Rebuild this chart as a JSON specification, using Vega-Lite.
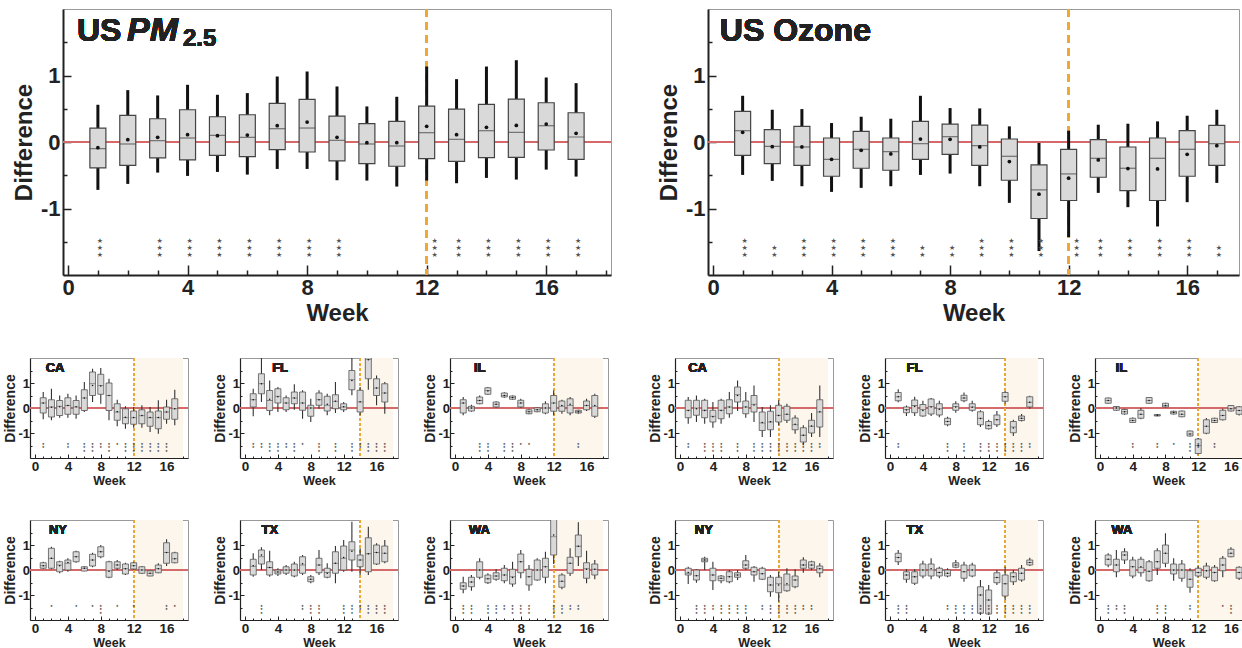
{
"$schema": "https://vega.github.io/schema/vega-lite/v6.json",
"padding": {"left": 3, "top": 6, "right": 0, "bottom": 0},
"background": "white",
"config": {
  "view": {"stroke": "#9a9a9a", "strokeWidth": 1},
  "font": "Liberation Sans",
  "axis": {"grid": false, "labelOverlap": false, "tickCount": 50, "domainColor": "#222", "tickColor": "#222", "labelColor": "#222", "titleColor": "#222", "labelFontWeight": "bold", "titleFontWeight": "bold", "labelFont": "Liberation Sans", "titleFont": "Liberation Sans"}
},
"datasets": {
"us_pm": [
{"w":1,"lo":-0.72,"q1":-0.39,"med":-0.10,"q3":0.21,"hi":0.56,"mean":-0.085,"sig":"★\n★\n★"},
{"w":2,"lo":-0.63,"q1":-0.35,"med":-0.03,"q3":0.40,"hi":0.78,"mean":0.035,"sig":""},
{"w":3,"lo":-0.46,"q1":-0.24,"med":0.02,"q3":0.35,"hi":0.70,"mean":0.07,"sig":"★\n★\n★"},
{"w":4,"lo":-0.51,"q1":-0.27,"med":0.06,"q3":0.485,"hi":0.86,"mean":0.11,"sig":"★\n★\n★"},
{"w":5,"lo":-0.45,"q1":-0.20,"med":0.10,"q3":0.38,"hi":0.71,"mean":0.095,"sig":"★\n★\n★"},
{"w":6,"lo":-0.49,"q1":-0.22,"med":0.07,"q3":0.41,"hi":0.735,"mean":0.105,"sig":"★\n★\n★"},
{"w":7,"lo":-0.405,"q1":-0.115,"med":0.20,"q3":0.58,"hi":0.985,"mean":0.245,"sig":"★\n★\n★"},
{"w":8,"lo":-0.405,"q1":-0.15,"med":0.21,"q3":0.64,"hi":1.06,"mean":0.30,"sig":"★\n★\n★"},
{"w":9,"lo":-0.575,"q1":-0.285,"med":0.025,"q3":0.39,"hi":0.835,"mean":0.07,"sig":"★\n★\n★"},
{"w":10,"lo":-0.58,"q1":-0.325,"med":-0.03,"q3":0.275,"hi":0.535,"mean":-0.01,"sig":""},
{"w":11,"lo":-0.67,"q1":-0.365,"med":-0.06,"q3":0.31,"hi":0.68,"mean":-0.01,"sig":""},
{"w":12,"lo":-0.58,"q1":-0.25,"med":0.14,"q3":0.54,"hi":1.135,"mean":0.235,"sig":"★\n★\n★"},
{"w":13,"lo":-0.62,"q1":-0.29,"med":0.04,"q3":0.495,"hi":0.945,"mean":0.11,"sig":"★\n★\n★"},
{"w":14,"lo":-0.54,"q1":-0.235,"med":0.17,"q3":0.565,"hi":1.135,"mean":0.22,"sig":"★\n★\n★"},
{"w":15,"lo":-0.565,"q1":-0.23,"med":0.145,"q3":0.645,"hi":1.23,"mean":0.25,"sig":"★\n★\n★"},
{"w":16,"lo":-0.415,"q1":-0.12,"med":0.245,"q3":0.59,"hi":0.97,"mean":0.27,"sig":"★\n★\n★"},
{"w":17,"lo":-0.52,"q1":-0.26,"med":0.075,"q3":0.44,"hi":0.885,"mean":0.13,"sig":"★\n★\n★"}
],
"us_oz": [
{"w":1,"lo":-0.495,"q1":-0.20,"med":0.17,"q3":0.46,"hi":0.695,"mean":0.145,"sig":"★\n★\n★"},
{"w":2,"lo":-0.585,"q1":-0.325,"med":-0.065,"q3":0.185,"hi":0.485,"mean":-0.07,"sig":"★\n★"},
{"w":3,"lo":-0.665,"q1":-0.35,"med":-0.075,"q3":0.235,"hi":0.495,"mean":-0.075,"sig":"★\n★\n★"},
{"w":4,"lo":-0.75,"q1":-0.515,"med":-0.26,"q3":0.06,"hi":0.285,"mean":-0.26,"sig":"★\n★\n★"},
{"w":5,"lo":-0.69,"q1":-0.395,"med":-0.11,"q3":0.16,"hi":0.38,"mean":-0.125,"sig":"★\n★\n★"},
{"w":6,"lo":-0.665,"q1":-0.425,"med":-0.145,"q3":0.06,"hi":0.35,"mean":-0.18,"sig":"★\n★\n★"},
{"w":7,"lo":-0.495,"q1":-0.26,"med":-0.025,"q3":0.31,"hi":0.695,"mean":0.045,"sig":"★\n★"},
{"w":8,"lo":-0.475,"q1":-0.185,"med":0.08,"q3":0.27,"hi":0.51,"mean":0.04,"sig":"★\n★"},
{"w":9,"lo":-0.665,"q1":-0.35,"med":-0.055,"q3":0.255,"hi":0.505,"mean":-0.075,"sig":"★\n★\n★"},
{"w":10,"lo":-0.915,"q1":-0.575,"med":-0.215,"q3":0.045,"hi":0.235,"mean":-0.295,"sig":"★\n★\n★"},
{"w":11,"lo":-1.64,"q1":-1.15,"med":-0.72,"q3":-0.345,"hi":-0.015,"mean":-0.785,"sig":"★\n★\n★"},
{"w":12,"lo":-1.43,"q1":-0.88,"med":-0.48,"q3":-0.11,"hi":0.17,"mean":-0.545,"sig":"★\n★\n★"},
{"w":13,"lo":-0.765,"q1":-0.53,"med":-0.245,"q3":0.035,"hi":0.26,"mean":-0.27,"sig":"★\n★\n★"},
{"w":14,"lo":-0.98,"q1":-0.73,"med":-0.395,"q3":-0.075,"hi":0.275,"mean":-0.40,"sig":"★\n★\n★"},
{"w":15,"lo":-1.27,"q1":-0.88,"med":-0.245,"q3":0.06,"hi":0.31,"mean":-0.405,"sig":"★\n★\n★"},
{"w":16,"lo":-0.905,"q1":-0.515,"med":-0.11,"q3":0.17,"hi":0.395,"mean":-0.185,"sig":"★\n★\n★"},
{"w":17,"lo":-0.615,"q1":-0.35,"med":-0.025,"q3":0.25,"hi":0.485,"mean":-0.055,"sig":"★\n★"}
],
"pm_CA": [
{"w":1,"lo":-0.45,"q1":-0.2,"med":0.2,"q3":0.41,"hi":0.64,"mean":0.2,"sig":"★\n★"},
{"w":2,"lo":-0.49,"q1":-0.36,"med":0.04,"q3":0.33,"hi":0.77,"mean":0.03,"sig":""},
{"w":3,"lo":-0.39,"q1":-0.3,"med":0.07,"q3":0.3,"hi":0.5,"mean":0.05,"sig":""},
{"w":4,"lo":-0.39,"q1":-0.25,"med":0.1,"q3":0.41,"hi":0.57,"mean":0.1,"sig":"★\n★"},
{"w":5,"lo":-0.43,"q1":-0.25,"med":0.04,"q3":0.3,"hi":0.5,"mean":0.05,"sig":""},
{"w":6,"lo":-0.16,"q1":-0.1,"med":0.4,"q3":0.73,"hi":1.04,"mean":0.4,"sig":"★\n★\n★"},
{"w":7,"lo":0.24,"q1":0.5,"med":0.97,"q3":1.44,"hi":1.57,"mean":0.9,"sig":"★\n★\n★"},
{"w":8,"lo":0.17,"q1":0.55,"med":0.9,"q3":1.35,"hi":1.6,"mean":0.88,"sig":"★\n★"},
{"w":9,"lo":-0.49,"q1":-0.1,"med":0.5,"q3":1.0,"hi":1.17,"mean":0.5,"sig":"★\n★\n★"},
{"w":10,"lo":-0.73,"q1":-0.49,"med":-0.16,"q3":0.17,"hi":0.33,"mean":-0.15,"sig":"★"},
{"w":11,"lo":-0.83,"q1":-0.63,"med":-0.39,"q3":-0.03,"hi":0.07,"mean":-0.37,"sig":"★\n★\n★"},
{"w":12,"lo":-0.79,"q1":-0.65,"med":-0.39,"q3":-0.12,"hi":0.04,"mean":-0.38,"sig":"★\n★\n★"},
{"w":13,"lo":-0.79,"q1":-0.63,"med":-0.31,"q3":-0.07,"hi":0.11,"mean":-0.3,"sig":"★\n★\n★"},
{"w":14,"lo":-0.96,"q1":-0.73,"med":-0.39,"q3":-0.16,"hi":0.04,"mean":-0.38,"sig":"★\n★\n★"},
{"w":15,"lo":-1.03,"q1":-0.83,"med":-0.39,"q3":-0.12,"hi":0.31,"mean":-0.38,"sig":"★\n★\n★"},
{"w":16,"lo":-0.63,"q1":-0.45,"med":-0.16,"q3":0.04,"hi":0.33,"mean":-0.16,"sig":"★\n★\n★"},
{"w":17,"lo":-0.69,"q1":-0.45,"med":-0.03,"q3":0.37,"hi":0.73,"mean":-0.03,"sig":""}
],
"pm_FL": [
{"w":1,"lo":-0.33,"q1":0.04,"med":0.33,"q3":0.57,"hi":0.77,"mean":0.33,"sig":"★\n★"},
{"w":2,"lo":0.24,"q1":0.57,"med":0.97,"q3":1.37,"hi":2.1,"mean":0.97,"sig":"★\n★"},
{"w":3,"lo":-0.29,"q1":-0.1,"med":0.3,"q3":0.7,"hi":1.1,"mean":0.35,"sig":"★\n★\n★"},
{"w":4,"lo":-0.16,"q1":0.2,"med":0.47,"q3":0.77,"hi":0.84,"mean":0.45,"sig":"★\n★\n★"},
{"w":5,"lo":-0.16,"q1":-0.07,"med":0.2,"q3":0.41,"hi":0.5,"mean":0.2,"sig":"★\n★"},
{"w":6,"lo":-0.07,"q1":0.17,"med":0.4,"q3":0.64,"hi":0.95,"mean":0.4,"sig":"★\n★\n★"},
{"w":7,"lo":-0.43,"q1":-0.09,"med":0.2,"q3":0.64,"hi":0.71,"mean":0.2,"sig":"★"},
{"w":8,"lo":-0.56,"q1":-0.33,"med":0.0,"q3":0.11,"hi":0.37,"mean":0.0,"sig":""},
{"w":9,"lo":-0.03,"q1":0.11,"med":0.33,"q3":0.6,"hi":0.71,"mean":0.33,"sig":"★\n★\n★"},
{"w":10,"lo":-0.29,"q1":-0.12,"med":0.11,"q3":0.47,"hi":0.57,"mean":0.15,"sig":""},
{"w":11,"lo":-0.2,"q1":-0.03,"med":0.27,"q3":0.53,"hi":1.04,"mean":0.27,"sig":"★\n★\n★"},
{"w":12,"lo":-0.16,"q1":-0.07,"med":0.04,"q3":0.17,"hi":0.24,"mean":0.05,"sig":""},
{"w":13,"lo":0.51,"q1":0.73,"med":1.13,"q3":1.5,"hi":2.1,"mean":1.1,"sig":"★\n★\n★"},
{"w":14,"lo":-0.29,"q1":-0.16,"med":0.24,"q3":0.71,"hi":0.84,"mean":0.25,"sig":"★\n★"},
{"w":15,"lo":0.73,"q1":1.17,"med":1.95,"q3":2.3,"hi":2.5,"mean":1.93,"sig":"★\n★\n★"},
{"w":16,"lo":0.11,"q1":0.5,"med":0.8,"q3":1.17,"hi":1.3,"mean":0.8,"sig":"★\n★\n★"},
{"w":17,"lo":-0.23,"q1":0.24,"med":0.6,"q3":0.97,"hi":1.04,"mean":0.6,"sig":"★\n★\n★"}
],
"pm_IL": [
{"w":1,"lo":-0.29,"q1":-0.2,"med":0.2,"q3":0.33,"hi":0.44,"mean":0.2,"sig":""},
{"w":2,"lo":-0.15,"q1":-0.12,"med":0.0,"q3":0.07,"hi":0.13,"mean":0.0,"sig":""},
{"w":3,"lo":0.15,"q1":0.17,"med":0.3,"q3":0.44,"hi":0.5,"mean":0.3,"sig":"★\n★\n★"},
{"w":4,"lo":0.53,"q1":0.55,"med":0.7,"q3":0.81,"hi":0.84,"mean":0.68,"sig":"★\n★\n★"},
{"w":5,"lo":0.01,"q1":0.04,"med":0.15,"q3":0.24,"hi":0.27,"mean":0.15,"sig":""},
{"w":6,"lo":0.41,"q1":0.44,"med":0.5,"q3":0.6,"hi":0.63,"mean":0.5,"sig":"★\n★\n★"},
{"w":7,"lo":0.33,"q1":0.35,"med":0.42,"q3":0.48,"hi":0.5,"mean":0.42,"sig":"★\n★\n★"},
{"w":8,"lo":0.0,"q1":0.04,"med":0.2,"q3":0.31,"hi":0.37,"mean":0.2,"sig":"★"},
{"w":9,"lo":-0.25,"q1":-0.23,"med":-0.15,"q3":-0.07,"hi":-0.03,"mean":-0.15,"sig":"★"},
{"w":10,"lo":-0.17,"q1":-0.15,"med":-0.07,"q3":0.01,"hi":0.04,"mean":-0.07,"sig":""},
{"w":11,"lo":-0.25,"q1":-0.2,"med":0.0,"q3":0.17,"hi":0.27,"mean":0.0,"sig":""},
{"w":12,"lo":-0.29,"q1":-0.13,"med":0.2,"q3":0.5,"hi":0.7,"mean":0.2,"sig":""},
{"w":13,"lo":-0.23,"q1":-0.13,"med":0.07,"q3":0.28,"hi":0.33,"mean":0.1,"sig":""},
{"w":14,"lo":-0.29,"q1":-0.2,"med":0.1,"q3":0.37,"hi":0.44,"mean":0.15,"sig":""},
{"w":15,"lo":-0.23,"q1":-0.2,"med":-0.15,"q3":-0.09,"hi":-0.07,"mean":-0.15,"sig":"★\n★"},
{"w":16,"lo":-0.12,"q1":-0.07,"med":0.1,"q3":0.28,"hi":0.37,"mean":0.1,"sig":""},
{"w":17,"lo":-0.4,"q1":-0.33,"med":0.07,"q3":0.5,"hi":0.57,"mean":0.1,"sig":""}
],
"pm_NY": [
{"w":1,"lo":0.04,"q1":0.07,"med":0.17,"q3":0.29,"hi":0.33,"mean":0.17,"sig":""},
{"w":2,"lo":0.03,"q1":0.07,"med":0.47,"q3":0.87,"hi":0.93,"mean":0.47,"sig":"★"},
{"w":3,"lo":-0.13,"q1":-0.07,"med":0.2,"q3":0.33,"hi":0.37,"mean":0.17,"sig":""},
{"w":4,"lo":-0.07,"q1":0.0,"med":0.27,"q3":0.4,"hi":0.47,"mean":0.3,"sig":""},
{"w":5,"lo":0.29,"q1":0.33,"med":0.53,"q3":0.73,"hi":0.77,"mean":0.53,"sig":"★"},
{"w":6,"lo":-0.05,"q1":-0.04,"med":0.07,"q3":0.13,"hi":0.15,"mean":0.07,"sig":""},
{"w":7,"lo":0.11,"q1":0.16,"med":0.4,"q3":0.63,"hi":0.69,"mean":0.4,"sig":"★"},
{"w":8,"lo":0.47,"q1":0.53,"med":0.73,"q3":0.93,"hi":1.0,"mean":0.73,"sig":"★\n★\n★"},
{"w":9,"lo":-0.33,"q1":-0.29,"med":-0.03,"q3":0.33,"hi":0.37,"mean":-0.05,"sig":""},
{"w":10,"lo":0.0,"q1":0.07,"med":0.2,"q3":0.33,"hi":0.4,"mean":0.2,"sig":"★"},
{"w":11,"lo":-0.2,"q1":-0.16,"med":0.05,"q3":0.24,"hi":0.29,"mean":0.05,"sig":""},
{"w":12,"lo":0.0,"q1":0.04,"med":0.17,"q3":0.29,"hi":0.33,"mean":0.17,"sig":"★"},
{"w":13,"lo":-0.16,"q1":-0.13,"med":0.0,"q3":0.13,"hi":0.16,"mean":0.0,"sig":""},
{"w":14,"lo":-0.25,"q1":-0.24,"med":-0.13,"q3":-0.03,"hi":-0.01,"mean":-0.13,"sig":""},
{"w":15,"lo":-0.13,"q1":-0.11,"med":0.05,"q3":0.2,"hi":0.27,"mean":0.05,"sig":""},
{"w":16,"lo":0.16,"q1":0.27,"med":0.7,"q3":1.09,"hi":1.23,"mean":0.7,"sig":"★\n★"},
{"w":17,"lo":0.27,"q1":0.29,"med":0.45,"q3":0.69,"hi":0.73,"mean":0.45,"sig":"★"}
],
"pm_TX": [
{"w":1,"lo":-0.27,"q1":-0.2,"med":0.15,"q3":0.43,"hi":0.67,"mean":0.17,"sig":""},
{"w":2,"lo":0.0,"q1":0.24,"med":0.53,"q3":0.8,"hi":0.91,"mean":0.6,"sig":"★\n★\n★"},
{"w":3,"lo":-0.27,"q1":-0.2,"med":0.1,"q3":0.33,"hi":0.77,"mean":0.1,"sig":""},
{"w":4,"lo":-0.24,"q1":-0.16,"med":-0.08,"q3":0.0,"hi":0.07,"mean":-0.08,"sig":""},
{"w":5,"lo":-0.2,"q1":-0.13,"med":0.0,"q3":0.13,"hi":0.2,"mean":0.0,"sig":""},
{"w":6,"lo":-0.29,"q1":-0.24,"med":0.0,"q3":0.24,"hi":0.33,"mean":0.0,"sig":""},
{"w":7,"lo":-0.2,"q1":-0.13,"med":0.2,"q3":0.53,"hi":0.6,"mean":0.25,"sig":"★\n★"},
{"w":8,"lo":-0.53,"q1":-0.47,"med":-0.37,"q3":-0.27,"hi":-0.2,"mean":-0.37,"sig":"★\n★\n★"},
{"w":9,"lo":-0.2,"q1":-0.11,"med":0.2,"q3":0.47,"hi":0.8,"mean":0.2,"sig":"★\n★\n★"},
{"w":10,"lo":-0.33,"q1":-0.29,"med":-0.1,"q3":0.07,"hi":0.27,"mean":-0.13,"sig":""},
{"w":11,"lo":-0.53,"q1":-0.13,"med":0.27,"q3":0.73,"hi":0.96,"mean":0.27,"sig":""},
{"w":12,"lo":-0.07,"q1":0.0,"med":0.47,"q3":0.96,"hi":1.2,"mean":0.5,"sig":"★\n★\n★"},
{"w":13,"lo":-0.07,"q1":0.4,"med":0.8,"q3":1.13,"hi":1.93,"mean":0.75,"sig":"★\n★\n★"},
{"w":14,"lo":-0.2,"q1":0.13,"med":0.4,"q3":0.6,"hi":0.87,"mean":0.4,"sig":"★\n★"},
{"w":15,"lo":-0.2,"q1":-0.07,"med":0.65,"q3":1.29,"hi":1.73,"mean":0.65,"sig":"★\n★\n★"},
{"w":16,"lo":0.2,"q1":0.24,"med":0.7,"q3":1.0,"hi":1.07,"mean":0.7,"sig":"★\n★\n★"},
{"w":17,"lo":0.27,"q1":0.33,"med":0.67,"q3":0.96,"hi":1.2,"mean":0.67,"sig":"★\n★\n★"}
],
"pm_WA": [
{"w":1,"lo":-0.93,"q1":-0.77,"med":-0.64,"q3":-0.51,"hi":-0.27,"mean":-0.64,"sig":"★\n★\n★"},
{"w":2,"lo":-0.83,"q1":-0.67,"med":-0.48,"q3":-0.29,"hi":-0.2,"mean":-0.48,"sig":"★\n★\n★"},
{"w":3,"lo":-0.37,"q1":-0.29,"med":0.0,"q3":0.33,"hi":0.47,"mean":0.0,"sig":""},
{"w":4,"lo":-0.56,"q1":-0.51,"med":-0.35,"q3":-0.2,"hi":-0.13,"mean":-0.35,"sig":"★\n★\n★"},
{"w":5,"lo":-0.43,"q1":-0.37,"med":-0.24,"q3":-0.11,"hi":0.03,"mean":-0.24,"sig":"★\n★\n★"},
{"w":6,"lo":-0.53,"q1":-0.43,"med":-0.2,"q3":0.07,"hi":0.2,"mean":-0.2,"sig":"★\n★"},
{"w":7,"lo":-0.67,"q1":-0.56,"med":-0.27,"q3":0.03,"hi":0.33,"mean":-0.3,"sig":"★\n★\n★"},
{"w":8,"lo":-0.33,"q1":-0.11,"med":0.33,"q3":0.64,"hi":0.8,"mean":0.33,"sig":"★\n★\n★"},
{"w":9,"lo":-0.83,"q1":-0.6,"med":-0.27,"q3":0.03,"hi":0.2,"mean":-0.27,"sig":"★\n★\n★"},
{"w":10,"lo":-0.43,"q1":-0.4,"med":0.0,"q3":0.4,"hi":0.47,"mean":0.0,"sig":""},
{"w":11,"lo":-0.53,"q1":-0.29,"med":0.13,"q3":0.47,"hi":0.73,"mean":0.13,"sig":""},
{"w":12,"lo":0.24,"q1":0.6,"med":1.33,"q3":2.1,"hi":2.3,"mean":1.4,"sig":"★\n★\n★"},
{"w":13,"lo":-0.77,"q1":-0.69,"med":-0.45,"q3":-0.2,"hi":-0.13,"mean":-0.45,"sig":"★\n★\n★"},
{"w":14,"lo":-0.24,"q1":-0.13,"med":0.27,"q3":0.51,"hi":0.87,"mean":0.27,"sig":"★\n★"},
{"w":15,"lo":0.16,"q1":0.53,"med":0.95,"q3":1.4,"hi":1.91,"mean":0.95,"sig":"★\n★"},
{"w":16,"lo":-0.53,"q1":-0.33,"med":0.05,"q3":0.29,"hi":0.77,"mean":0.03,"sig":""},
{"w":17,"lo":-0.37,"q1":-0.2,"med":0.03,"q3":0.24,"hi":0.4,"mean":0.03,"sig":""}
],
"oz_CA": [
{"w":1,"lo":-0.63,"q1":-0.39,"med":-0.09,"q3":0.31,"hi":0.44,"mean":-0.1,"sig":"★\n★"},
{"w":2,"lo":-0.56,"q1":-0.29,"med":0.0,"q3":0.31,"hi":0.5,"mean":-0.03,"sig":""},
{"w":3,"lo":-0.63,"q1":-0.39,"med":-0.09,"q3":0.31,"hi":0.37,"mean":-0.1,"sig":"★\n★\n★"},
{"w":4,"lo":-0.79,"q1":-0.56,"med":-0.33,"q3":-0.09,"hi":0.24,"mean":-0.35,"sig":"★\n★\n★"},
{"w":5,"lo":-0.63,"q1":-0.43,"med":-0.09,"q3":0.31,"hi":0.37,"mean":-0.1,"sig":"★\n★\n★"},
{"w":6,"lo":-0.39,"q1":-0.23,"med":0.04,"q3":0.33,"hi":0.64,"mean":0.04,"sig":""},
{"w":7,"lo":-0.12,"q1":0.24,"med":0.53,"q3":0.84,"hi":1.1,"mean":0.5,"sig":"★\n★\n★"},
{"w":8,"lo":-0.39,"q1":-0.23,"med":0.04,"q3":0.28,"hi":0.64,"mean":0.04,"sig":""},
{"w":9,"lo":-0.56,"q1":-0.16,"med":0.15,"q3":0.5,"hi":0.9,"mean":0.12,"sig":"★\n★\n★"},
{"w":10,"lo":-1.16,"q1":-0.9,"med":-0.6,"q3":-0.16,"hi":0.04,"mean":-0.58,"sig":"★\n★\n★"},
{"w":11,"lo":-1.16,"q1":-0.87,"med":-0.56,"q3":-0.13,"hi":0.11,"mean":-0.55,"sig":"★\n★\n★"},
{"w":12,"lo":-0.69,"q1":-0.56,"med":-0.29,"q3":0.11,"hi":0.31,"mean":-0.3,"sig":"★\n★\n★"},
{"w":13,"lo":-0.6,"q1":-0.49,"med":-0.25,"q3":0.07,"hi":0.17,"mean":-0.25,"sig":"★\n★\n★"},
{"w":14,"lo":-1.03,"q1":-0.87,"med":-0.67,"q3":-0.4,"hi":-0.29,"mean":-0.65,"sig":"★\n★\n★"},
{"w":15,"lo":-1.49,"q1":-1.36,"med":-1.09,"q3":-0.79,"hi":-0.69,"mean":-1.09,"sig":"★\n★\n★"},
{"w":16,"lo":-1.16,"q1":-1.0,"med":-0.73,"q3":-0.49,"hi":-0.2,"mean":-0.72,"sig":"★\n★\n★"},
{"w":17,"lo":-1.16,"q1":-0.76,"med":-0.16,"q3":0.33,"hi":0.9,"mean":-0.15,"sig":"★\n★"}
],
"oz_FL": [
{"w":1,"lo":0.23,"q1":0.29,"med":0.45,"q3":0.62,"hi":0.75,"mean":0.45,"sig":"★\n★"},
{"w":2,"lo":-0.32,"q1":-0.19,"med":-0.06,"q3":0.04,"hi":0.1,"mean":-0.08,"sig":""},
{"w":3,"lo":-0.32,"q1":-0.19,"med":0.1,"q3":0.32,"hi":0.45,"mean":0.06,"sig":""},
{"w":4,"lo":-0.35,"q1":-0.32,"med":-0.06,"q3":0.14,"hi":0.29,"mean":-0.1,"sig":""},
{"w":5,"lo":-0.32,"q1":-0.24,"med":0.06,"q3":0.36,"hi":0.4,"mean":0.04,"sig":""},
{"w":6,"lo":-0.37,"q1":-0.28,"med":-0.03,"q3":0.17,"hi":0.29,"mean":-0.05,"sig":""},
{"w":7,"lo":-0.73,"q1":-0.67,"med":-0.54,"q3":-0.41,"hi":-0.35,"mean":-0.54,"sig":"★\n★\n★"},
{"w":8,"lo":-0.19,"q1":-0.09,"med":0.06,"q3":0.17,"hi":0.27,"mean":0.04,"sig":""},
{"w":9,"lo":0.23,"q1":0.29,"med":0.4,"q3":0.51,"hi":0.62,"mean":0.4,"sig":"★\n★\n★"},
{"w":10,"lo":-0.15,"q1":-0.09,"med":0.04,"q3":0.17,"hi":0.29,"mean":0.03,"sig":""},
{"w":11,"lo":-0.76,"q1":-0.67,"med":-0.41,"q3":-0.15,"hi":-0.09,"mean":-0.42,"sig":"★\n★\n★"},
{"w":12,"lo":-0.86,"q1":-0.83,"med":-0.71,"q3":-0.54,"hi":-0.47,"mean":-0.7,"sig":"★\n★\n★"},
{"w":13,"lo":-0.76,"q1":-0.67,"med":-0.47,"q3":-0.28,"hi":-0.12,"mean":-0.47,"sig":"★\n★\n★"},
{"w":14,"lo":0.17,"q1":0.27,"med":0.45,"q3":0.62,"hi":0.68,"mean":0.45,"sig":"★\n★\n★"},
{"w":15,"lo":-1.12,"q1":-0.99,"med":-0.76,"q3":-0.54,"hi":-0.47,"mean":-0.8,"sig":"★\n★\n★"},
{"w":16,"lo":-0.54,"q1":-0.5,"med":-0.41,"q3":-0.32,"hi":-0.24,"mean":-0.41,"sig":"★\n★\n★"},
{"w":17,"lo":-0.03,"q1":0.04,"med":0.23,"q3":0.45,"hi":0.49,"mean":0.23,"sig":"★\n★"}
],
"oz_IL": [
{"w":1,"lo":0.17,"q1":0.19,"med":0.3,"q3":0.4,"hi":0.42,"mean":0.3,"sig":""},
{"w":2,"lo":-0.11,"q1":-0.09,"med":0.0,"q3":0.06,"hi":0.08,"mean":0.0,"sig":""},
{"w":3,"lo":-0.27,"q1":-0.24,"med":-0.15,"q3":-0.06,"hi":-0.03,"mean":-0.15,"sig":""},
{"w":4,"lo":-0.6,"q1":-0.58,"med":-0.5,"q3":-0.41,"hi":-0.38,"mean":-0.5,"sig":"★\n★"},
{"w":5,"lo":-0.45,"q1":-0.41,"med":-0.25,"q3":-0.09,"hi":0.0,"mean":-0.25,"sig":""},
{"w":6,"lo":0.17,"q1":0.19,"med":0.3,"q3":0.42,"hi":0.44,"mean":0.3,"sig":""},
{"w":7,"lo":-0.33,"q1":-0.32,"med":-0.29,"q3":-0.26,"hi":-0.25,"mean":-0.29,"sig":"★\n★"},
{"w":8,"lo":0.02,"q1":0.04,"med":0.1,"q3":0.19,"hi":0.21,"mean":0.1,"sig":""},
{"w":9,"lo":-0.26,"q1":-0.24,"med":-0.18,"q3":-0.13,"hi":-0.11,"mean":-0.18,"sig":"★"},
{"w":10,"lo":-0.37,"q1":-0.35,"med":-0.25,"q3":-0.12,"hi":-0.1,"mean":-0.25,"sig":""},
{"w":11,"lo":-1.14,"q1":-1.12,"med":-1.04,"q3":-0.92,"hi":-0.9,"mean":-1.04,"sig":"★\n★\n★"},
{"w":12,"lo":-1.85,"q1":-1.82,"med":-1.5,"q3":-1.24,"hi":-1.2,"mean":-1.5,"sig":"★\n★"},
{"w":13,"lo":-1.05,"q1":-1.01,"med":-0.73,"q3":-0.47,"hi":-0.4,"mean":-0.73,"sig":""},
{"w":14,"lo":-0.6,"q1":-0.58,"med":-0.5,"q3":-0.41,"hi":-0.39,"mean":-0.5,"sig":"★\n★"},
{"w":15,"lo":-0.5,"q1":-0.47,"med":-0.3,"q3":-0.09,"hi":-0.03,"mean":-0.3,"sig":""},
{"w":16,"lo":-0.14,"q1":-0.12,"med":-0.03,"q3":0.1,"hi":0.12,"mean":-0.03,"sig":""},
{"w":17,"lo":-0.3,"q1":-0.25,"med":-0.1,"q3":0.05,"hi":0.08,"mean":-0.1,"sig":""}
],
"oz_NY": [
{"w":1,"lo":-0.56,"q1":-0.2,"med":-0.13,"q3":0.07,"hi":0.13,"mean":-0.1,"sig":""},
{"w":2,"lo":-0.51,"q1":-0.4,"med":-0.23,"q3":0.0,"hi":0.03,"mean":-0.23,"sig":"★\n★\n★"},
{"w":3,"lo":0.0,"q1":0.33,"med":0.4,"q3":0.47,"hi":0.53,"mean":0.4,"sig":"★\n★\n★"},
{"w":4,"lo":-0.8,"q1":-0.43,"med":-0.2,"q3":0.07,"hi":0.33,"mean":-0.2,"sig":"★\n★"},
{"w":5,"lo":-0.53,"q1":-0.43,"med":-0.33,"q3":-0.24,"hi":-0.2,"mean":-0.33,"sig":"★\n★\n★"},
{"w":6,"lo":-0.53,"q1":-0.47,"med":-0.27,"q3":-0.07,"hi":0.0,"mean":-0.27,"sig":"★\n★\n★"},
{"w":7,"lo":-0.4,"q1":-0.29,"med":-0.2,"q3":-0.11,"hi":0.0,"mean":-0.2,"sig":"★\n★\n★"},
{"w":8,"lo":0.0,"q1":0.07,"med":0.2,"q3":0.37,"hi":0.6,"mean":0.2,"sig":"★\n★\n★"},
{"w":9,"lo":-0.47,"q1":-0.2,"med":-0.07,"q3":0.11,"hi":0.16,"mean":-0.07,"sig":""},
{"w":10,"lo":-0.4,"q1":-0.37,"med":-0.15,"q3":0.07,"hi":0.13,"mean":-0.15,"sig":"★\n★"},
{"w":11,"lo":-1.07,"q1":-0.87,"med":-0.6,"q3":-0.29,"hi":-0.2,"mean":-0.6,"sig":"★\n★\n★"},
{"w":12,"lo":-1.27,"q1":-0.91,"med":-0.55,"q3":-0.29,"hi":-0.07,"mean":-0.6,"sig":"★\n★\n★"},
{"w":13,"lo":-0.87,"q1":-0.83,"med":-0.6,"q3":-0.16,"hi":0.07,"mean":-0.55,"sig":"★\n★\n★"},
{"w":14,"lo":-0.73,"q1":-0.67,"med":-0.4,"q3":-0.24,"hi":0.03,"mean":-0.4,"sig":"★\n★\n★"},
{"w":15,"lo":-0.11,"q1":0.07,"med":0.2,"q3":0.4,"hi":0.51,"mean":0.2,"sig":"★\n★"},
{"w":16,"lo":0.0,"q1":0.07,"med":0.2,"q3":0.33,"hi":0.37,"mean":0.2,"sig":"★\n★"},
{"w":17,"lo":-0.29,"q1":-0.11,"med":0.05,"q3":0.16,"hi":0.27,"mean":0.05,"sig":""}
],
"oz_TX": [
{"w":1,"lo":0.2,"q1":0.33,"med":0.5,"q3":0.67,"hi":0.8,"mean":0.5,"sig":"★\n★\n★"},
{"w":2,"lo":-0.51,"q1":-0.37,"med":-0.2,"q3":-0.07,"hi":0.03,"mean":-0.2,"sig":"★\n★\n★"},
{"w":3,"lo":-0.6,"q1":-0.53,"med":-0.27,"q3":-0.07,"hi":0.03,"mean":-0.27,"sig":""},
{"w":4,"lo":-0.33,"q1":-0.24,"med":0.0,"q3":0.24,"hi":0.37,"mean":0.0,"sig":""},
{"w":5,"lo":-0.37,"q1":-0.24,"med":0.0,"q3":0.24,"hi":0.47,"mean":0.05,"sig":""},
{"w":6,"lo":-0.33,"q1":-0.24,"med":-0.1,"q3":0.07,"hi":0.13,"mean":-0.1,"sig":""},
{"w":7,"lo":-0.29,"q1":-0.24,"med":-0.13,"q3":0.0,"hi":0.07,"mean":-0.13,"sig":"★\n★"},
{"w":8,"lo":0.07,"q1":0.11,"med":0.2,"q3":0.29,"hi":0.4,"mean":0.2,"sig":"★\n★\n★"},
{"w":9,"lo":-0.47,"q1":-0.33,"med":-0.07,"q3":0.2,"hi":0.33,"mean":-0.07,"sig":"★\n★\n★"},
{"w":10,"lo":-0.29,"q1":-0.24,"med":0.0,"q3":0.2,"hi":0.29,"mean":0.0,"sig":"★\n★\n★"},
{"w":11,"lo":-1.8,"q1":-1.73,"med":-1.0,"q3":-0.67,"hi":-0.4,"mean":-1.0,"sig":"★\n★\n★"},
{"w":12,"lo":-1.8,"q1":-1.76,"med":-1.2,"q3":-0.8,"hi":-0.6,"mean":-1.2,"sig":"★\n★\n★"},
{"w":13,"lo":-0.6,"q1":-0.51,"med":-0.3,"q3":-0.11,"hi":0.0,"mean":-0.3,"sig":"★\n★\n★"},
{"w":14,"lo":-1.2,"q1":-1.04,"med":-0.55,"q3":-0.2,"hi":0.13,"mean":-0.55,"sig":"★\n★\n★"},
{"w":15,"lo":-0.6,"q1":-0.47,"med":-0.27,"q3":-0.11,"hi":0.0,"mean":-0.27,"sig":"★\n★\n★"},
{"w":16,"lo":-0.47,"q1":-0.4,"med":-0.13,"q3":0.07,"hi":0.2,"mean":-0.13,"sig":"★\n★\n★"},
{"w":17,"lo":0.16,"q1":0.2,"med":0.3,"q3":0.4,"hi":0.49,"mean":0.3,"sig":"★\n★\n★"}
],
"oz_WA": [
{"w":1,"lo":0.11,"q1":0.2,"med":0.43,"q3":0.6,"hi":0.67,"mean":0.43,"sig":"★\n★\n★"},
{"w":2,"lo":-0.29,"q1":-0.07,"med":0.2,"q3":0.43,"hi":0.8,"mean":0.2,"sig":"★\n★"},
{"w":3,"lo":0.24,"q1":0.4,"med":0.6,"q3":0.73,"hi":0.87,"mean":0.6,"sig":"★\n★\n★"},
{"w":4,"lo":-0.33,"q1":-0.24,"med":0.13,"q3":0.4,"hi":0.53,"mean":0.13,"sig":""},
{"w":5,"lo":-0.27,"q1":-0.11,"med":0.1,"q3":0.43,"hi":0.53,"mean":0.13,"sig":""},
{"w":6,"lo":-0.47,"q1":-0.43,"med":-0.05,"q3":0.33,"hi":0.4,"mean":-0.05,"sig":""},
{"w":7,"lo":-0.2,"q1":0.07,"med":0.33,"q3":0.77,"hi":0.87,"mean":0.33,"sig":"★\n★\n★"},
{"w":8,"lo":0.11,"q1":0.27,"med":0.67,"q3":1.0,"hi":1.47,"mean":0.67,"sig":"★\n★\n★"},
{"w":9,"lo":-0.43,"q1":-0.16,"med":0.0,"q3":0.24,"hi":0.47,"mean":0.0,"sig":""},
{"w":10,"lo":-0.47,"q1":-0.33,"med":0.0,"q3":0.24,"hi":0.4,"mean":0.0,"sig":""},
{"w":11,"lo":-0.91,"q1":-0.69,"med":-0.37,"q3":-0.03,"hi":0.07,"mean":-0.37,"sig":"★\n★"},
{"w":12,"lo":-0.29,"q1":-0.24,"med":-0.1,"q3":0.07,"hi":0.16,"mean":-0.1,"sig":""},
{"w":13,"lo":-0.37,"q1":-0.29,"med":-0.03,"q3":0.16,"hi":0.29,"mean":-0.03,"sig":""},
{"w":14,"lo":-0.47,"q1":-0.43,"med":-0.1,"q3":0.11,"hi":0.2,"mean":-0.1,"sig":""},
{"w":15,"lo":-0.29,"q1":-0.03,"med":0.2,"q3":0.47,"hi":0.56,"mean":0.2,"sig":"★"},
{"w":16,"lo":0.51,"q1":0.53,"med":0.67,"q3":0.83,"hi":0.91,"mean":0.67,"sig":"★\n★\n★"},
{"w":17,"lo":-0.4,"q1":-0.33,"med":-0.1,"q3":0.11,"hi":0.15,"mean":-0.1,"sig":""}
]
},
"spacing": 35,
"hconcat": [
{"spacing": 31, "vconcat": [
 {"spacing": -23, "hconcat": [
  {"width": 1, "height": 1, "view": {"stroke": null}, "data": {"values": [{"s": 0}]}, "mark": {"type": "point", "opacity": 0}, "encoding": {}},
  {"width": 548, "height": 266, "data": {"name": "us_pm"}, "layer": [
   {"mark": {"type": "rule", "color": "#d46a6a", "strokeWidth": 1.5}, "encoding": {"y": {"datum": 0, "type": "quantitative", "scale": {"domain": [-2, 2], "nice": false, "zero": false}, "axis": {"title": "Difference", "titleFontSize": 24, "titlePadding": 4, "values": [-1.5,-1,-0.5,0,0.5,1,1.5], "tickCount": 50, "labelExpr": "datum.value % 1 === 0 ? '' + datum.value : ''", "labelFontSize": 22, "labelPadding": 11, "labelOverlap": false, "tickSize": {"condition": {"test": "datum.value % 1 === 0", "value": -8}, "value": -4}, "tickWidth": 1.5, "domainWidth": 2}}}},
   {"mark": {"type": "rule", "color": "#f0a830", "strokeWidth": 2.5, "strokeDash": [8, 5]}, "encoding": {"x": {"datum": 12, "type": "quantitative", "scale": {"domain": [0, 18], "nice": false, "zero": false}, "axis": {"title": "Week", "titleFontSize": 24, "titlePadding": -2, "values": [0,1,2,3,4,5,6,7,8,9,10,11,12,13,14,15,16,17,18], "tickCount": 50, "labelExpr": "datum.value % 4 === 0 && datum.value < 18 ? '' + datum.value : ''", "labelFontSize": 22, "labelPadding": 12, "labelFlush": false, "labelOverlap": false, "tickSize": {"condition": {"test": "datum.value % 4 === 0", "value": -10}, "value": -5}, "tickWidth": 1.5, "domainWidth": 2}}}},
   {"mark": {"type": "rule", "color": "#111", "strokeWidth": 3}, "encoding": {"x": {"field": "w", "type": "quantitative"}, "y": {"field": "lo", "type": "quantitative"}, "y2": {"field": "hi"}}},
   {"mark": {"type": "bar", "width": 16, "fill": "#d9d9d9", "stroke": "#444", "strokeWidth": 1.2}, "encoding": {"x": {"field": "w", "type": "quantitative"}, "y": {"field": "q1", "type": "quantitative"}, "y2": {"field": "q3"}}},
   {"mark": {"type": "tick", "orient": "horizontal", "size": 16, "thickness": 1.2, "color": "#444"}, "encoding": {"x": {"field": "w", "type": "quantitative"}, "y": {"field": "med", "type": "quantitative"}}},
   {"mark": {"type": "point", "filled": true, "size": 14, "color": "#111", "opacity": 1}, "encoding": {"x": {"field": "w", "type": "quantitative"}, "y": {"field": "mean", "type": "quantitative"}}},
   {"transform": [{"filter": "length(datum.sig) == 5 && datum.w != 12"}], "mark": {"type": "text", "font": "DejaVu Sans", "fontSize": 7, "lineHeight": 7, "lineBreak": "\n", "baseline": "bottom", "color": "#555", "dx": 2}, "encoding": {"x": {"field": "w", "type": "quantitative"}, "y": {"datum": -1.53}, "text": {"field": "sig"}}},
   {"transform": [{"filter": "length(datum.sig) == 5 && datum.w == 12"}], "mark": {"type": "text", "font": "DejaVu Sans", "fontSize": 7, "lineHeight": 7, "lineBreak": "\n", "baseline": "bottom", "color": "#555", "dx": 8}, "encoding": {"x": {"field": "w", "type": "quantitative"}, "y": {"datum": -1.53}, "text": {"field": "sig"}}},
   {"mark": {"type": "text", "fontSize": 32, "fontWeight": "bold", "align": "left", "baseline": "alphabetic", "color": "#222"}, "encoding": {"x": {"datum": 0.3}, "y": {"datum": 1.52}, "text": {"value": "US"}}},
   {"mark": {"type": "text", "fontSize": 34, "fontWeight": "bold", "fontStyle": "italic", "align": "left", "baseline": "alphabetic", "color": "#222", "dx": 50}, "encoding": {"x": {"datum": 0.3}, "y": {"datum": 1.52}, "text": {"value": "PM"}}},
   {"mark": {"type": "text", "fontSize": 24, "fontWeight": "bold", "align": "left", "baseline": "alphabetic", "color": "#222", "dx": 106, "dy": 5}, "encoding": {"x": {"datum": 0.3}, "y": {"datum": 1.52}, "text": {"value": "2.5"}}}
  ]}
 ]},
 {"spacing": 24, "hconcat": [
  {"width": 158, "height": 100, "data": {"name": "pm_CA"}, "layer": [
   {"mark": {"type": "rect", "color": "#fcf6ec", "clip": true}, "encoding": {"x": {"datum": 12, "type": "quantitative", "scale": {"domain": [0, 18], "nice": false, "zero": false}, "axis": {"title": "Week", "titleFontSize": 12.5, "titlePadding": 0, "values": [0,1,2,3,4,5,6,7,8,9,10,11,12,13,14,15,16,17,18], "tickCount": 50, "labelExpr": "datum.value % 4 === 0 && datum.value < 18 ? '' + datum.value : ''", "labelFontSize": 13.5, "labelPadding": 5, "labelFlush": false, "labelOverlap": false, "tickSize": {"condition": {"test": "datum.value % 4 === 0", "value": -4}, "value": -2}, "tickWidth": 1, "domainWidth": 1.2}}, "x2": {"datum": 18}, "y": {"datum": -2, "type": "quantitative", "scale": {"domain": [-2, 2], "nice": false, "zero": false}, "axis": {"title": "Difference", "titleFontSize": 14, "titlePadding": 0, "values": [-1.5,-1,-0.5,0,0.5,1,1.5], "tickCount": 50, "labelExpr": "datum.value % 1 === 0 ? '' + datum.value : ''", "labelFontSize": 13, "labelPadding": 4.5, "labelOverlap": false, "tickSize": {"condition": {"test": "datum.value % 1 === 0", "value": -4}, "value": -2}, "tickWidth": 1, "domainWidth": 1.2}}, "y2": {"datum": 2}}},
   {"mark": {"type": "rule", "color": "#d46a6a", "strokeWidth": 1}, "encoding": {"y": {"datum": 0}}},
   {"mark": {"type": "rule", "color": "#e8a838", "strokeWidth": 1, "strokeDash": [3, 2]}, "encoding": {"x": {"datum": 12}}},
   {"mark": {"type": "rule", "color": "#333", "strokeWidth": 1.1, "clip": true}, "encoding": {"x": {"field": "w", "type": "quantitative"}, "y": {"field": "lo", "type": "quantitative"}, "y2": {"field": "hi"}}},
   {"mark": {"type": "bar", "width": 6, "fill": "#d9d9d9", "stroke": "#555", "strokeWidth": 0.8, "clip": true}, "encoding": {"x": {"field": "w", "type": "quantitative"}, "y": {"field": "q1", "type": "quantitative"}, "y2": {"field": "q3"}}},
   {"mark": {"type": "tick", "orient": "horizontal", "size": 6, "thickness": 0.8, "color": "#555", "clip": true}, "encoding": {"x": {"field": "w", "type": "quantitative"}, "y": {"field": "med", "type": "quantitative"}}},
   {"mark": {"type": "point", "filled": true, "size": 2.5, "color": "#111", "opacity": 1, "clip": true}, "encoding": {"x": {"field": "w", "type": "quantitative"}, "y": {"field": "mean", "type": "quantitative"}}},
   {"mark": {"type": "text", "font": "DejaVu Sans", "fontSize": 3.3, "lineHeight": 3.3, "lineBreak": "\n", "baseline": "bottom", "color": "#333", "clip": true}, "encoding": {"x": {"field": "w", "type": "quantitative"}, "y": {"datum": -1.52}, "text": {"field": "sig"}}},
   {"mark": {"type": "text", "fontSize": 13, "fontWeight": "bold", "align": "left", "baseline": "middle", "color": "#222"}, "encoding": {"x": {"datum": 1.3}, "y": {"datum": 1.62}, "text": {"value": "CA"}}}
  ]},
  {"width": 158, "height": 100, "data": {"name": "pm_FL"}, "layer": [
   {"mark": {"type": "rect", "color": "#fcf6ec", "clip": true}, "encoding": {"x": {"datum": 14, "type": "quantitative", "scale": {"domain": [0, 18], "nice": false, "zero": false}, "axis": {"title": "Week", "titleFontSize": 12.5, "titlePadding": 0, "values": [0,1,2,3,4,5,6,7,8,9,10,11,12,13,14,15,16,17,18], "tickCount": 50, "labelExpr": "datum.value % 4 === 0 && datum.value < 18 ? '' + datum.value : ''", "labelFontSize": 13.5, "labelPadding": 5, "labelFlush": false, "labelOverlap": false, "tickSize": {"condition": {"test": "datum.value % 4 === 0", "value": -4}, "value": -2}, "tickWidth": 1, "domainWidth": 1.2}}, "x2": {"datum": 18}, "y": {"datum": -2, "type": "quantitative", "scale": {"domain": [-2, 2], "nice": false, "zero": false}, "axis": {"title": "Difference", "titleFontSize": 14, "titlePadding": 0, "values": [-1.5,-1,-0.5,0,0.5,1,1.5], "tickCount": 50, "labelExpr": "datum.value % 1 === 0 ? '' + datum.value : ''", "labelFontSize": 13, "labelPadding": 4.5, "labelOverlap": false, "tickSize": {"condition": {"test": "datum.value % 1 === 0", "value": -4}, "value": -2}, "tickWidth": 1, "domainWidth": 1.2}}, "y2": {"datum": 2}}},
   {"mark": {"type": "rule", "color": "#d46a6a", "strokeWidth": 1}, "encoding": {"y": {"datum": 0}}},
   {"mark": {"type": "rule", "color": "#e8a838", "strokeWidth": 1, "strokeDash": [3, 2]}, "encoding": {"x": {"datum": 14}}},
   {"mark": {"type": "rule", "color": "#333", "strokeWidth": 1.1, "clip": true}, "encoding": {"x": {"field": "w", "type": "quantitative"}, "y": {"field": "lo", "type": "quantitative"}, "y2": {"field": "hi"}}},
   {"mark": {"type": "bar", "width": 6, "fill": "#d9d9d9", "stroke": "#555", "strokeWidth": 0.8, "clip": true}, "encoding": {"x": {"field": "w", "type": "quantitative"}, "y": {"field": "q1", "type": "quantitative"}, "y2": {"field": "q3"}}},
   {"mark": {"type": "tick", "orient": "horizontal", "size": 6, "thickness": 0.8, "color": "#555", "clip": true}, "encoding": {"x": {"field": "w", "type": "quantitative"}, "y": {"field": "med", "type": "quantitative"}}},
   {"mark": {"type": "point", "filled": true, "size": 2.5, "color": "#111", "opacity": 1, "clip": true}, "encoding": {"x": {"field": "w", "type": "quantitative"}, "y": {"field": "mean", "type": "quantitative"}}},
   {"mark": {"type": "text", "font": "DejaVu Sans", "fontSize": 3.3, "lineHeight": 3.3, "lineBreak": "\n", "baseline": "bottom", "color": "#333", "clip": true}, "encoding": {"x": {"field": "w", "type": "quantitative"}, "y": {"datum": -1.52}, "text": {"field": "sig"}}},
   {"mark": {"type": "text", "fontSize": 13, "fontWeight": "bold", "align": "left", "baseline": "middle", "color": "#222"}, "encoding": {"x": {"datum": 3.3}, "y": {"datum": 1.62}, "text": {"value": "FL"}}}
  ]},
  {"width": 158, "height": 100, "data": {"name": "pm_IL"}, "layer": [
   {"mark": {"type": "rect", "color": "#fcf6ec", "clip": true}, "encoding": {"x": {"datum": 12, "type": "quantitative", "scale": {"domain": [0, 18], "nice": false, "zero": false}, "axis": {"title": "Week", "titleFontSize": 12.5, "titlePadding": 0, "values": [0,1,2,3,4,5,6,7,8,9,10,11,12,13,14,15,16,17,18], "tickCount": 50, "labelExpr": "datum.value % 4 === 0 && datum.value < 18 ? '' + datum.value : ''", "labelFontSize": 13.5, "labelPadding": 5, "labelFlush": false, "labelOverlap": false, "tickSize": {"condition": {"test": "datum.value % 4 === 0", "value": -4}, "value": -2}, "tickWidth": 1, "domainWidth": 1.2}}, "x2": {"datum": 18}, "y": {"datum": -2, "type": "quantitative", "scale": {"domain": [-2, 2], "nice": false, "zero": false}, "axis": {"title": "Difference", "titleFontSize": 14, "titlePadding": 0, "values": [-1.5,-1,-0.5,0,0.5,1,1.5], "tickCount": 50, "labelExpr": "datum.value % 1 === 0 ? '' + datum.value : ''", "labelFontSize": 13, "labelPadding": 4.5, "labelOverlap": false, "tickSize": {"condition": {"test": "datum.value % 1 === 0", "value": -4}, "value": -2}, "tickWidth": 1, "domainWidth": 1.2}}, "y2": {"datum": 2}}},
   {"mark": {"type": "rule", "color": "#d46a6a", "strokeWidth": 1}, "encoding": {"y": {"datum": 0}}},
   {"mark": {"type": "rule", "color": "#e8a838", "strokeWidth": 1, "strokeDash": [3, 2]}, "encoding": {"x": {"datum": 12}}},
   {"mark": {"type": "rule", "color": "#333", "strokeWidth": 1.1, "clip": true}, "encoding": {"x": {"field": "w", "type": "quantitative"}, "y": {"field": "lo", "type": "quantitative"}, "y2": {"field": "hi"}}},
   {"mark": {"type": "bar", "width": 6, "fill": "#d9d9d9", "stroke": "#555", "strokeWidth": 0.8, "clip": true}, "encoding": {"x": {"field": "w", "type": "quantitative"}, "y": {"field": "q1", "type": "quantitative"}, "y2": {"field": "q3"}}},
   {"mark": {"type": "tick", "orient": "horizontal", "size": 6, "thickness": 0.8, "color": "#555", "clip": true}, "encoding": {"x": {"field": "w", "type": "quantitative"}, "y": {"field": "med", "type": "quantitative"}}},
   {"mark": {"type": "point", "filled": true, "size": 2.5, "color": "#111", "opacity": 1, "clip": true}, "encoding": {"x": {"field": "w", "type": "quantitative"}, "y": {"field": "mean", "type": "quantitative"}}},
   {"mark": {"type": "text", "font": "DejaVu Sans", "fontSize": 3.3, "lineHeight": 3.3, "lineBreak": "\n", "baseline": "bottom", "color": "#333", "clip": true}, "encoding": {"x": {"field": "w", "type": "quantitative"}, "y": {"datum": -1.52}, "text": {"field": "sig"}}},
   {"mark": {"type": "text", "fontSize": 13, "fontWeight": "bold", "align": "left", "baseline": "middle", "color": "#222"}, "encoding": {"x": {"datum": 2.3}, "y": {"datum": 1.62}, "text": {"value": "IL"}}}
  ]}
 ]},
 {"spacing": 24, "hconcat": [
  {"width": 158, "height": 100, "data": {"name": "pm_NY"}, "layer": [
   {"mark": {"type": "rect", "color": "#fcf6ec", "clip": true}, "encoding": {"x": {"datum": 12, "type": "quantitative", "scale": {"domain": [0, 18], "nice": false, "zero": false}, "axis": {"title": "Week", "titleFontSize": 12.5, "titlePadding": 0, "values": [0,1,2,3,4,5,6,7,8,9,10,11,12,13,14,15,16,17,18], "tickCount": 50, "labelExpr": "datum.value % 4 === 0 && datum.value < 18 ? '' + datum.value : ''", "labelFontSize": 13.5, "labelPadding": 5, "labelFlush": false, "labelOverlap": false, "tickSize": {"condition": {"test": "datum.value % 4 === 0", "value": -4}, "value": -2}, "tickWidth": 1, "domainWidth": 1.2}}, "x2": {"datum": 18}, "y": {"datum": -2, "type": "quantitative", "scale": {"domain": [-2, 2], "nice": false, "zero": false}, "axis": {"title": "Difference", "titleFontSize": 14, "titlePadding": 0, "values": [-1.5,-1,-0.5,0,0.5,1,1.5], "tickCount": 50, "labelExpr": "datum.value % 1 === 0 ? '' + datum.value : ''", "labelFontSize": 13, "labelPadding": 4.5, "labelOverlap": false, "tickSize": {"condition": {"test": "datum.value % 1 === 0", "value": -4}, "value": -2}, "tickWidth": 1, "domainWidth": 1.2}}, "y2": {"datum": 2}}},
   {"mark": {"type": "rule", "color": "#d46a6a", "strokeWidth": 1}, "encoding": {"y": {"datum": 0}}},
   {"mark": {"type": "rule", "color": "#e8a838", "strokeWidth": 1, "strokeDash": [3, 2]}, "encoding": {"x": {"datum": 12}}},
   {"mark": {"type": "rule", "color": "#333", "strokeWidth": 1.1, "clip": true}, "encoding": {"x": {"field": "w", "type": "quantitative"}, "y": {"field": "lo", "type": "quantitative"}, "y2": {"field": "hi"}}},
   {"mark": {"type": "bar", "width": 6, "fill": "#d9d9d9", "stroke": "#555", "strokeWidth": 0.8, "clip": true}, "encoding": {"x": {"field": "w", "type": "quantitative"}, "y": {"field": "q1", "type": "quantitative"}, "y2": {"field": "q3"}}},
   {"mark": {"type": "tick", "orient": "horizontal", "size": 6, "thickness": 0.8, "color": "#555", "clip": true}, "encoding": {"x": {"field": "w", "type": "quantitative"}, "y": {"field": "med", "type": "quantitative"}}},
   {"mark": {"type": "point", "filled": true, "size": 2.5, "color": "#111", "opacity": 1, "clip": true}, "encoding": {"x": {"field": "w", "type": "quantitative"}, "y": {"field": "mean", "type": "quantitative"}}},
   {"mark": {"type": "text", "font": "DejaVu Sans", "fontSize": 3.3, "lineHeight": 3.3, "lineBreak": "\n", "baseline": "bottom", "color": "#333", "clip": true}, "encoding": {"x": {"field": "w", "type": "quantitative"}, "y": {"datum": -1.52}, "text": {"field": "sig"}}},
   {"mark": {"type": "text", "fontSize": 13, "fontWeight": "bold", "align": "left", "baseline": "middle", "color": "#222"}, "encoding": {"x": {"datum": 1.7}, "y": {"datum": 1.62}, "text": {"value": "NY"}}}
  ]},
  {"width": 158, "height": 100, "data": {"name": "pm_TX"}, "layer": [
   {"mark": {"type": "rect", "color": "#fcf6ec", "clip": true}, "encoding": {"x": {"datum": 14, "type": "quantitative", "scale": {"domain": [0, 18], "nice": false, "zero": false}, "axis": {"title": "Week", "titleFontSize": 12.5, "titlePadding": 0, "values": [0,1,2,3,4,5,6,7,8,9,10,11,12,13,14,15,16,17,18], "tickCount": 50, "labelExpr": "datum.value % 4 === 0 && datum.value < 18 ? '' + datum.value : ''", "labelFontSize": 13.5, "labelPadding": 5, "labelFlush": false, "labelOverlap": false, "tickSize": {"condition": {"test": "datum.value % 4 === 0", "value": -4}, "value": -2}, "tickWidth": 1, "domainWidth": 1.2}}, "x2": {"datum": 18}, "y": {"datum": -2, "type": "quantitative", "scale": {"domain": [-2, 2], "nice": false, "zero": false}, "axis": {"title": "Difference", "titleFontSize": 14, "titlePadding": 0, "values": [-1.5,-1,-0.5,0,0.5,1,1.5], "tickCount": 50, "labelExpr": "datum.value % 1 === 0 ? '' + datum.value : ''", "labelFontSize": 13, "labelPadding": 4.5, "labelOverlap": false, "tickSize": {"condition": {"test": "datum.value % 1 === 0", "value": -4}, "value": -2}, "tickWidth": 1, "domainWidth": 1.2}}, "y2": {"datum": 2}}},
   {"mark": {"type": "rule", "color": "#d46a6a", "strokeWidth": 1}, "encoding": {"y": {"datum": 0}}},
   {"mark": {"type": "rule", "color": "#e8a838", "strokeWidth": 1, "strokeDash": [3, 2]}, "encoding": {"x": {"datum": 14}}},
   {"mark": {"type": "rule", "color": "#333", "strokeWidth": 1.1, "clip": true}, "encoding": {"x": {"field": "w", "type": "quantitative"}, "y": {"field": "lo", "type": "quantitative"}, "y2": {"field": "hi"}}},
   {"mark": {"type": "bar", "width": 6, "fill": "#d9d9d9", "stroke": "#555", "strokeWidth": 0.8, "clip": true}, "encoding": {"x": {"field": "w", "type": "quantitative"}, "y": {"field": "q1", "type": "quantitative"}, "y2": {"field": "q3"}}},
   {"mark": {"type": "tick", "orient": "horizontal", "size": 6, "thickness": 0.8, "color": "#555", "clip": true}, "encoding": {"x": {"field": "w", "type": "quantitative"}, "y": {"field": "med", "type": "quantitative"}}},
   {"mark": {"type": "point", "filled": true, "size": 2.5, "color": "#111", "opacity": 1, "clip": true}, "encoding": {"x": {"field": "w", "type": "quantitative"}, "y": {"field": "mean", "type": "quantitative"}}},
   {"mark": {"type": "text", "font": "DejaVu Sans", "fontSize": 3.3, "lineHeight": 3.3, "lineBreak": "\n", "baseline": "bottom", "color": "#333", "clip": true}, "encoding": {"x": {"field": "w", "type": "quantitative"}, "y": {"datum": -1.52}, "text": {"field": "sig"}}},
   {"mark": {"type": "text", "fontSize": 13, "fontWeight": "bold", "align": "left", "baseline": "middle", "color": "#222"}, "encoding": {"x": {"datum": 2.0}, "y": {"datum": 1.62}, "text": {"value": "TX"}}}
  ]},
  {"width": 158, "height": 100, "data": {"name": "pm_WA"}, "layer": [
   {"mark": {"type": "rect", "color": "#fcf6ec", "clip": true}, "encoding": {"x": {"datum": 12, "type": "quantitative", "scale": {"domain": [0, 18], "nice": false, "zero": false}, "axis": {"title": "Week", "titleFontSize": 12.5, "titlePadding": 0, "values": [0,1,2,3,4,5,6,7,8,9,10,11,12,13,14,15,16,17,18], "tickCount": 50, "labelExpr": "datum.value % 4 === 0 && datum.value < 18 ? '' + datum.value : ''", "labelFontSize": 13.5, "labelPadding": 5, "labelFlush": false, "labelOverlap": false, "tickSize": {"condition": {"test": "datum.value % 4 === 0", "value": -4}, "value": -2}, "tickWidth": 1, "domainWidth": 1.2}}, "x2": {"datum": 18}, "y": {"datum": -2, "type": "quantitative", "scale": {"domain": [-2, 2], "nice": false, "zero": false}, "axis": {"title": "Difference", "titleFontSize": 14, "titlePadding": 0, "values": [-1.5,-1,-0.5,0,0.5,1,1.5], "tickCount": 50, "labelExpr": "datum.value % 1 === 0 ? '' + datum.value : ''", "labelFontSize": 13, "labelPadding": 4.5, "labelOverlap": false, "tickSize": {"condition": {"test": "datum.value % 1 === 0", "value": -4}, "value": -2}, "tickWidth": 1, "domainWidth": 1.2}}, "y2": {"datum": 2}}},
   {"mark": {"type": "rule", "color": "#d46a6a", "strokeWidth": 1}, "encoding": {"y": {"datum": 0}}},
   {"mark": {"type": "rule", "color": "#e8a838", "strokeWidth": 1, "strokeDash": [3, 2]}, "encoding": {"x": {"datum": 12}}},
   {"mark": {"type": "rule", "color": "#333", "strokeWidth": 1.1, "clip": true}, "encoding": {"x": {"field": "w", "type": "quantitative"}, "y": {"field": "lo", "type": "quantitative"}, "y2": {"field": "hi"}}},
   {"mark": {"type": "bar", "width": 6, "fill": "#d9d9d9", "stroke": "#555", "strokeWidth": 0.8, "clip": true}, "encoding": {"x": {"field": "w", "type": "quantitative"}, "y": {"field": "q1", "type": "quantitative"}, "y2": {"field": "q3"}}},
   {"mark": {"type": "tick", "orient": "horizontal", "size": 6, "thickness": 0.8, "color": "#555", "clip": true}, "encoding": {"x": {"field": "w", "type": "quantitative"}, "y": {"field": "med", "type": "quantitative"}}},
   {"mark": {"type": "point", "filled": true, "size": 2.5, "color": "#111", "opacity": 1, "clip": true}, "encoding": {"x": {"field": "w", "type": "quantitative"}, "y": {"field": "mean", "type": "quantitative"}}},
   {"mark": {"type": "text", "font": "DejaVu Sans", "fontSize": 3.3, "lineHeight": 3.3, "lineBreak": "\n", "baseline": "bottom", "color": "#333", "clip": true}, "encoding": {"x": {"field": "w", "type": "quantitative"}, "y": {"datum": -1.52}, "text": {"field": "sig"}}},
   {"mark": {"type": "text", "fontSize": 13, "fontWeight": "bold", "align": "left", "baseline": "middle", "color": "#222"}, "encoding": {"x": {"datum": 1.7}, "y": {"datum": 1.62}, "text": {"value": "WA"}}}
  ]}
 ]}
]},
{"spacing": 31, "vconcat": [
 {"spacing": -23, "hconcat": [
  {"width": 1, "height": 1, "view": {"stroke": null}, "data": {"values": [{"s": 0}]}, "mark": {"type": "point", "opacity": 0}, "encoding": {}},
  {"width": 531, "height": 266, "data": {"name": "us_oz"}, "layer": [
   {"mark": {"type": "rule", "color": "#d46a6a", "strokeWidth": 1.5}, "encoding": {"y": {"datum": 0, "type": "quantitative", "scale": {"domain": [-2, 2], "nice": false, "zero": false}, "axis": {"title": "Difference", "titleFontSize": 24, "titlePadding": 4, "values": [-1.5,-1,-0.5,0,0.5,1,1.5], "tickCount": 50, "labelExpr": "datum.value % 1 === 0 ? '' + datum.value : ''", "labelFontSize": 22, "labelPadding": 11, "labelOverlap": false, "tickSize": {"condition": {"test": "datum.value % 1 === 0", "value": -8}, "value": -4}, "tickWidth": 1.5, "domainWidth": 2}}}},
   {"mark": {"type": "rule", "color": "#f0a830", "strokeWidth": 2.5, "strokeDash": [8, 5]}, "encoding": {"x": {"datum": 12, "type": "quantitative", "scale": {"domain": [0, 17.58], "nice": false, "zero": false}, "axis": {"title": "Week", "titleFontSize": 24, "titlePadding": -2, "values": [0,1,2,3,4,5,6,7,8,9,10,11,12,13,14,15,16,17], "tickCount": 50, "labelExpr": "datum.value % 4 === 0 && datum.value < 18 ? '' + datum.value : ''", "labelFontSize": 22, "labelPadding": 12, "labelFlush": false, "labelOverlap": false, "tickSize": {"condition": {"test": "datum.value % 4 === 0", "value": -10}, "value": -5}, "tickWidth": 1.5, "domainWidth": 2}}}},
   {"mark": {"type": "rule", "color": "#111", "strokeWidth": 3}, "encoding": {"x": {"field": "w", "type": "quantitative"}, "y": {"field": "lo", "type": "quantitative"}, "y2": {"field": "hi"}}},
   {"mark": {"type": "bar", "width": 16, "fill": "#d9d9d9", "stroke": "#444", "strokeWidth": 1.2}, "encoding": {"x": {"field": "w", "type": "quantitative"}, "y": {"field": "q1", "type": "quantitative"}, "y2": {"field": "q3"}}},
   {"mark": {"type": "tick", "orient": "horizontal", "size": 16, "thickness": 1.2, "color": "#444"}, "encoding": {"x": {"field": "w", "type": "quantitative"}, "y": {"field": "med", "type": "quantitative"}}},
   {"mark": {"type": "point", "filled": true, "size": 14, "color": "#111", "opacity": 1}, "encoding": {"x": {"field": "w", "type": "quantitative"}, "y": {"field": "mean", "type": "quantitative"}}},
   {"transform": [{"filter": "length(datum.sig) == 5 && datum.w != 12"}], "mark": {"type": "text", "font": "DejaVu Sans", "fontSize": 7, "lineHeight": 7, "lineBreak": "\n", "baseline": "bottom", "color": "#555", "dx": 2}, "encoding": {"x": {"field": "w", "type": "quantitative"}, "y": {"datum": -1.53}, "text": {"field": "sig"}}},
   {"transform": [{"filter": "length(datum.sig) == 5 && datum.w == 12"}], "mark": {"type": "text", "font": "DejaVu Sans", "fontSize": 7, "lineHeight": 7, "lineBreak": "\n", "baseline": "bottom", "color": "#555", "dx": 8}, "encoding": {"x": {"field": "w", "type": "quantitative"}, "y": {"datum": -1.53}, "text": {"field": "sig"}}},
   {"transform": [{"filter": "length(datum.sig) == 3"}], "mark": {"type": "text", "font": "DejaVu Sans", "fontSize": 7, "lineHeight": 7, "lineBreak": "\n", "baseline": "bottom", "color": "#555", "dx": 2}, "encoding": {"x": {"field": "w", "type": "quantitative"}, "y": {"datum": -1.635}, "text": {"field": "sig"}}},
   {"mark": {"type": "text", "fontSize": 32, "fontWeight": "bold", "align": "left", "baseline": "alphabetic", "color": "#222"}, "encoding": {"x": {"datum": 0.23}, "y": {"datum": 1.52}, "text": {"value": "US Ozone"}}}
  ]}
 ]},
 {"spacing": 24, "hconcat": [
  {"width": 158, "height": 100, "data": {"name": "oz_CA"}, "layer": [
   {"mark": {"type": "rect", "color": "#fcf6ec", "clip": true}, "encoding": {"x": {"datum": 12, "type": "quantitative", "scale": {"domain": [0, 18], "nice": false, "zero": false}, "axis": {"title": "Week", "titleFontSize": 12.5, "titlePadding": 0, "values": [0,1,2,3,4,5,6,7,8,9,10,11,12,13,14,15,16,17,18], "tickCount": 50, "labelExpr": "datum.value % 4 === 0 && datum.value < 18 ? '' + datum.value : ''", "labelFontSize": 13.5, "labelPadding": 5, "labelFlush": false, "labelOverlap": false, "tickSize": {"condition": {"test": "datum.value % 4 === 0", "value": -4}, "value": -2}, "tickWidth": 1, "domainWidth": 1.2}}, "x2": {"datum": 18}, "y": {"datum": -2, "type": "quantitative", "scale": {"domain": [-2, 2], "nice": false, "zero": false}, "axis": {"title": "Difference", "titleFontSize": 14, "titlePadding": 0, "values": [-1.5,-1,-0.5,0,0.5,1,1.5], "tickCount": 50, "labelExpr": "datum.value % 1 === 0 ? '' + datum.value : ''", "labelFontSize": 13, "labelPadding": 4.5, "labelOverlap": false, "tickSize": {"condition": {"test": "datum.value % 1 === 0", "value": -4}, "value": -2}, "tickWidth": 1, "domainWidth": 1.2}}, "y2": {"datum": 2}}},
   {"mark": {"type": "rule", "color": "#d46a6a", "strokeWidth": 1}, "encoding": {"y": {"datum": 0}}},
   {"mark": {"type": "rule", "color": "#e8a838", "strokeWidth": 1, "strokeDash": [3, 2]}, "encoding": {"x": {"datum": 12}}},
   {"mark": {"type": "rule", "color": "#333", "strokeWidth": 1.1, "clip": true}, "encoding": {"x": {"field": "w", "type": "quantitative"}, "y": {"field": "lo", "type": "quantitative"}, "y2": {"field": "hi"}}},
   {"mark": {"type": "bar", "width": 6, "fill": "#d9d9d9", "stroke": "#555", "strokeWidth": 0.8, "clip": true}, "encoding": {"x": {"field": "w", "type": "quantitative"}, "y": {"field": "q1", "type": "quantitative"}, "y2": {"field": "q3"}}},
   {"mark": {"type": "tick", "orient": "horizontal", "size": 6, "thickness": 0.8, "color": "#555", "clip": true}, "encoding": {"x": {"field": "w", "type": "quantitative"}, "y": {"field": "med", "type": "quantitative"}}},
   {"mark": {"type": "point", "filled": true, "size": 2.5, "color": "#111", "opacity": 1, "clip": true}, "encoding": {"x": {"field": "w", "type": "quantitative"}, "y": {"field": "mean", "type": "quantitative"}}},
   {"mark": {"type": "text", "font": "DejaVu Sans", "fontSize": 3.3, "lineHeight": 3.3, "lineBreak": "\n", "baseline": "bottom", "color": "#333", "clip": true}, "encoding": {"x": {"field": "w", "type": "quantitative"}, "y": {"datum": -1.52}, "text": {"field": "sig"}}},
   {"mark": {"type": "text", "fontSize": 13, "fontWeight": "bold", "align": "left", "baseline": "middle", "color": "#222"}, "encoding": {"x": {"datum": 1.0}, "y": {"datum": 1.62}, "text": {"value": "CA"}}}
  ]},
  {"width": 158, "height": 100, "data": {"name": "oz_FL"}, "layer": [
   {"mark": {"type": "rect", "color": "#fcf6ec", "clip": true}, "encoding": {"x": {"datum": 14, "type": "quantitative", "scale": {"domain": [0, 18], "nice": false, "zero": false}, "axis": {"title": "Week", "titleFontSize": 12.5, "titlePadding": 0, "values": [0,1,2,3,4,5,6,7,8,9,10,11,12,13,14,15,16,17,18], "tickCount": 50, "labelExpr": "datum.value % 4 === 0 && datum.value < 18 ? '' + datum.value : ''", "labelFontSize": 13.5, "labelPadding": 5, "labelFlush": false, "labelOverlap": false, "tickSize": {"condition": {"test": "datum.value % 4 === 0", "value": -4}, "value": -2}, "tickWidth": 1, "domainWidth": 1.2}}, "x2": {"datum": 18}, "y": {"datum": -2, "type": "quantitative", "scale": {"domain": [-2, 2], "nice": false, "zero": false}, "axis": {"title": "Difference", "titleFontSize": 14, "titlePadding": 0, "values": [-1.5,-1,-0.5,0,0.5,1,1.5], "tickCount": 50, "labelExpr": "datum.value % 1 === 0 ? '' + datum.value : ''", "labelFontSize": 13, "labelPadding": 4.5, "labelOverlap": false, "tickSize": {"condition": {"test": "datum.value % 1 === 0", "value": -4}, "value": -2}, "tickWidth": 1, "domainWidth": 1.2}}, "y2": {"datum": 2}}},
   {"mark": {"type": "rule", "color": "#d46a6a", "strokeWidth": 1}, "encoding": {"y": {"datum": 0}}},
   {"mark": {"type": "rule", "color": "#e8a838", "strokeWidth": 1, "strokeDash": [3, 2]}, "encoding": {"x": {"datum": 14}}},
   {"mark": {"type": "rule", "color": "#333", "strokeWidth": 1.1, "clip": true}, "encoding": {"x": {"field": "w", "type": "quantitative"}, "y": {"field": "lo", "type": "quantitative"}, "y2": {"field": "hi"}}},
   {"mark": {"type": "bar", "width": 6, "fill": "#d9d9d9", "stroke": "#555", "strokeWidth": 0.8, "clip": true}, "encoding": {"x": {"field": "w", "type": "quantitative"}, "y": {"field": "q1", "type": "quantitative"}, "y2": {"field": "q3"}}},
   {"mark": {"type": "tick", "orient": "horizontal", "size": 6, "thickness": 0.8, "color": "#555", "clip": true}, "encoding": {"x": {"field": "w", "type": "quantitative"}, "y": {"field": "med", "type": "quantitative"}}},
   {"mark": {"type": "point", "filled": true, "size": 2.5, "color": "#111", "opacity": 1, "clip": true}, "encoding": {"x": {"field": "w", "type": "quantitative"}, "y": {"field": "mean", "type": "quantitative"}}},
   {"mark": {"type": "text", "font": "DejaVu Sans", "fontSize": 3.3, "lineHeight": 3.3, "lineBreak": "\n", "baseline": "bottom", "color": "#333", "clip": true}, "encoding": {"x": {"field": "w", "type": "quantitative"}, "y": {"datum": -1.52}, "text": {"field": "sig"}}},
   {"mark": {"type": "text", "fontSize": 13, "fontWeight": "bold", "align": "left", "baseline": "middle", "color": "#222"}, "encoding": {"x": {"datum": 2.0}, "y": {"datum": 1.62}, "text": {"value": "FL"}}}
  ]},
  {"width": 147, "height": 100, "data": {"name": "oz_IL"}, "layer": [
   {"mark": {"type": "rect", "color": "#fcf6ec", "clip": true}, "encoding": {"x": {"datum": 12, "type": "quantitative", "scale": {"domain": [0, 16.74], "nice": false, "zero": false}, "axis": {"title": "Week", "titleFontSize": 12.5, "titlePadding": 0, "values": [0,1,2,3,4,5,6,7,8,9,10,11,12,13,14,15,16], "tickCount": 50, "labelExpr": "datum.value % 4 === 0 && datum.value < 18 ? '' + datum.value : ''", "labelFontSize": 13.5, "labelPadding": 5, "labelFlush": false, "labelOverlap": false, "tickSize": {"condition": {"test": "datum.value % 4 === 0", "value": -4}, "value": -2}, "tickWidth": 1, "domainWidth": 1.2}}, "x2": {"datum": 18}, "y": {"datum": -2, "type": "quantitative", "scale": {"domain": [-2, 2], "nice": false, "zero": false}, "axis": {"title": "Difference", "titleFontSize": 14, "titlePadding": 0, "values": [-1.5,-1,-0.5,0,0.5,1,1.5], "tickCount": 50, "labelExpr": "datum.value % 1 === 0 ? '' + datum.value : ''", "labelFontSize": 13, "labelPadding": 4.5, "labelOverlap": false, "tickSize": {"condition": {"test": "datum.value % 1 === 0", "value": -4}, "value": -2}, "tickWidth": 1, "domainWidth": 1.2}}, "y2": {"datum": 2}}},
   {"mark": {"type": "rule", "color": "#d46a6a", "strokeWidth": 1}, "encoding": {"y": {"datum": 0}}},
   {"mark": {"type": "rule", "color": "#e8a838", "strokeWidth": 1, "strokeDash": [3, 2]}, "encoding": {"x": {"datum": 12}}},
   {"mark": {"type": "rule", "color": "#333", "strokeWidth": 1.1, "clip": true}, "encoding": {"x": {"field": "w", "type": "quantitative"}, "y": {"field": "lo", "type": "quantitative"}, "y2": {"field": "hi"}}},
   {"mark": {"type": "bar", "width": 6, "fill": "#d9d9d9", "stroke": "#555", "strokeWidth": 0.8, "clip": true}, "encoding": {"x": {"field": "w", "type": "quantitative"}, "y": {"field": "q1", "type": "quantitative"}, "y2": {"field": "q3"}}},
   {"mark": {"type": "tick", "orient": "horizontal", "size": 6, "thickness": 0.8, "color": "#555", "clip": true}, "encoding": {"x": {"field": "w", "type": "quantitative"}, "y": {"field": "med", "type": "quantitative"}}},
   {"mark": {"type": "point", "filled": true, "size": 2.5, "color": "#111", "opacity": 1, "clip": true}, "encoding": {"x": {"field": "w", "type": "quantitative"}, "y": {"field": "mean", "type": "quantitative"}}},
   {"mark": {"type": "text", "font": "DejaVu Sans", "fontSize": 3.3, "lineHeight": 3.3, "lineBreak": "\n", "baseline": "bottom", "color": "#333", "clip": true}, "encoding": {"x": {"field": "w", "type": "quantitative"}, "y": {"datum": -1.52}, "text": {"field": "sig"}}},
   {"mark": {"type": "text", "fontSize": 13, "fontWeight": "bold", "align": "left", "baseline": "middle", "color": "#222"}, "encoding": {"x": {"datum": 1.9}, "y": {"datum": 1.62}, "text": {"value": "IL"}}}
  ]}
 ]},
 {"spacing": 24, "hconcat": [
  {"width": 158, "height": 100, "data": {"name": "oz_NY"}, "layer": [
   {"mark": {"type": "rect", "color": "#fcf6ec", "clip": true}, "encoding": {"x": {"datum": 12, "type": "quantitative", "scale": {"domain": [0, 18], "nice": false, "zero": false}, "axis": {"title": "Week", "titleFontSize": 12.5, "titlePadding": 0, "values": [0,1,2,3,4,5,6,7,8,9,10,11,12,13,14,15,16,17,18], "tickCount": 50, "labelExpr": "datum.value % 4 === 0 && datum.value < 18 ? '' + datum.value : ''", "labelFontSize": 13.5, "labelPadding": 5, "labelFlush": false, "labelOverlap": false, "tickSize": {"condition": {"test": "datum.value % 4 === 0", "value": -4}, "value": -2}, "tickWidth": 1, "domainWidth": 1.2}}, "x2": {"datum": 18}, "y": {"datum": -2, "type": "quantitative", "scale": {"domain": [-2, 2], "nice": false, "zero": false}, "axis": {"title": "Difference", "titleFontSize": 14, "titlePadding": 0, "values": [-1.5,-1,-0.5,0,0.5,1,1.5], "tickCount": 50, "labelExpr": "datum.value % 1 === 0 ? '' + datum.value : ''", "labelFontSize": 13, "labelPadding": 4.5, "labelOverlap": false, "tickSize": {"condition": {"test": "datum.value % 1 === 0", "value": -4}, "value": -2}, "tickWidth": 1, "domainWidth": 1.2}}, "y2": {"datum": 2}}},
   {"mark": {"type": "rule", "color": "#d46a6a", "strokeWidth": 1}, "encoding": {"y": {"datum": 0}}},
   {"mark": {"type": "rule", "color": "#e8a838", "strokeWidth": 1, "strokeDash": [3, 2]}, "encoding": {"x": {"datum": 12}}},
   {"mark": {"type": "rule", "color": "#333", "strokeWidth": 1.1, "clip": true}, "encoding": {"x": {"field": "w", "type": "quantitative"}, "y": {"field": "lo", "type": "quantitative"}, "y2": {"field": "hi"}}},
   {"mark": {"type": "bar", "width": 6, "fill": "#d9d9d9", "stroke": "#555", "strokeWidth": 0.8, "clip": true}, "encoding": {"x": {"field": "w", "type": "quantitative"}, "y": {"field": "q1", "type": "quantitative"}, "y2": {"field": "q3"}}},
   {"mark": {"type": "tick", "orient": "horizontal", "size": 6, "thickness": 0.8, "color": "#555", "clip": true}, "encoding": {"x": {"field": "w", "type": "quantitative"}, "y": {"field": "med", "type": "quantitative"}}},
   {"mark": {"type": "point", "filled": true, "size": 2.5, "color": "#111", "opacity": 1, "clip": true}, "encoding": {"x": {"field": "w", "type": "quantitative"}, "y": {"field": "mean", "type": "quantitative"}}},
   {"mark": {"type": "text", "font": "DejaVu Sans", "fontSize": 3.3, "lineHeight": 3.3, "lineBreak": "\n", "baseline": "bottom", "color": "#333", "clip": true}, "encoding": {"x": {"field": "w", "type": "quantitative"}, "y": {"datum": -1.52}, "text": {"field": "sig"}}},
   {"mark": {"type": "text", "fontSize": 13, "fontWeight": "bold", "align": "left", "baseline": "middle", "color": "#222"}, "encoding": {"x": {"datum": 1.8}, "y": {"datum": 1.62}, "text": {"value": "NY"}}}
  ]},
  {"width": 158, "height": 100, "data": {"name": "oz_TX"}, "layer": [
   {"mark": {"type": "rect", "color": "#fcf6ec", "clip": true}, "encoding": {"x": {"datum": 14, "type": "quantitative", "scale": {"domain": [0, 18], "nice": false, "zero": false}, "axis": {"title": "Week", "titleFontSize": 12.5, "titlePadding": 0, "values": [0,1,2,3,4,5,6,7,8,9,10,11,12,13,14,15,16,17,18], "tickCount": 50, "labelExpr": "datum.value % 4 === 0 && datum.value < 18 ? '' + datum.value : ''", "labelFontSize": 13.5, "labelPadding": 5, "labelFlush": false, "labelOverlap": false, "tickSize": {"condition": {"test": "datum.value % 4 === 0", "value": -4}, "value": -2}, "tickWidth": 1, "domainWidth": 1.2}}, "x2": {"datum": 18}, "y": {"datum": -2, "type": "quantitative", "scale": {"domain": [-2, 2], "nice": false, "zero": false}, "axis": {"title": "Difference", "titleFontSize": 14, "titlePadding": 0, "values": [-1.5,-1,-0.5,0,0.5,1,1.5], "tickCount": 50, "labelExpr": "datum.value % 1 === 0 ? '' + datum.value : ''", "labelFontSize": 13, "labelPadding": 4.5, "labelOverlap": false, "tickSize": {"condition": {"test": "datum.value % 1 === 0", "value": -4}, "value": -2}, "tickWidth": 1, "domainWidth": 1.2}}, "y2": {"datum": 2}}},
   {"mark": {"type": "rule", "color": "#d46a6a", "strokeWidth": 1}, "encoding": {"y": {"datum": 0}}},
   {"mark": {"type": "rule", "color": "#e8a838", "strokeWidth": 1, "strokeDash": [3, 2]}, "encoding": {"x": {"datum": 14}}},
   {"mark": {"type": "rule", "color": "#333", "strokeWidth": 1.1, "clip": true}, "encoding": {"x": {"field": "w", "type": "quantitative"}, "y": {"field": "lo", "type": "quantitative"}, "y2": {"field": "hi"}}},
   {"mark": {"type": "bar", "width": 6, "fill": "#d9d9d9", "stroke": "#555", "strokeWidth": 0.8, "clip": true}, "encoding": {"x": {"field": "w", "type": "quantitative"}, "y": {"field": "q1", "type": "quantitative"}, "y2": {"field": "q3"}}},
   {"mark": {"type": "tick", "orient": "horizontal", "size": 6, "thickness": 0.8, "color": "#555", "clip": true}, "encoding": {"x": {"field": "w", "type": "quantitative"}, "y": {"field": "med", "type": "quantitative"}}},
   {"mark": {"type": "point", "filled": true, "size": 2.5, "color": "#111", "opacity": 1, "clip": true}, "encoding": {"x": {"field": "w", "type": "quantitative"}, "y": {"field": "mean", "type": "quantitative"}}},
   {"mark": {"type": "text", "font": "DejaVu Sans", "fontSize": 3.3, "lineHeight": 3.3, "lineBreak": "\n", "baseline": "bottom", "color": "#333", "clip": true}, "encoding": {"x": {"field": "w", "type": "quantitative"}, "y": {"datum": -1.52}, "text": {"field": "sig"}}},
   {"mark": {"type": "text", "fontSize": 13, "fontWeight": "bold", "align": "left", "baseline": "middle", "color": "#222"}, "encoding": {"x": {"datum": 2.0}, "y": {"datum": 1.62}, "text": {"value": "TX"}}}
  ]},
  {"width": 147, "height": 100, "data": {"name": "oz_WA"}, "layer": [
   {"mark": {"type": "rect", "color": "#fcf6ec", "clip": true}, "encoding": {"x": {"datum": 12, "type": "quantitative", "scale": {"domain": [0, 16.74], "nice": false, "zero": false}, "axis": {"title": "Week", "titleFontSize": 12.5, "titlePadding": 0, "values": [0,1,2,3,4,5,6,7,8,9,10,11,12,13,14,15,16], "tickCount": 50, "labelExpr": "datum.value % 4 === 0 && datum.value < 18 ? '' + datum.value : ''", "labelFontSize": 13.5, "labelPadding": 5, "labelFlush": false, "labelOverlap": false, "tickSize": {"condition": {"test": "datum.value % 4 === 0", "value": -4}, "value": -2}, "tickWidth": 1, "domainWidth": 1.2}}, "x2": {"datum": 18}, "y": {"datum": -2, "type": "quantitative", "scale": {"domain": [-2, 2], "nice": false, "zero": false}, "axis": {"title": "Difference", "titleFontSize": 14, "titlePadding": 0, "values": [-1.5,-1,-0.5,0,0.5,1,1.5], "tickCount": 50, "labelExpr": "datum.value % 1 === 0 ? '' + datum.value : ''", "labelFontSize": 13, "labelPadding": 4.5, "labelOverlap": false, "tickSize": {"condition": {"test": "datum.value % 1 === 0", "value": -4}, "value": -2}, "tickWidth": 1, "domainWidth": 1.2}}, "y2": {"datum": 2}}},
   {"mark": {"type": "rule", "color": "#d46a6a", "strokeWidth": 1}, "encoding": {"y": {"datum": 0}}},
   {"mark": {"type": "rule", "color": "#e8a838", "strokeWidth": 1, "strokeDash": [3, 2]}, "encoding": {"x": {"datum": 12}}},
   {"mark": {"type": "rule", "color": "#333", "strokeWidth": 1.1, "clip": true}, "encoding": {"x": {"field": "w", "type": "quantitative"}, "y": {"field": "lo", "type": "quantitative"}, "y2": {"field": "hi"}}},
   {"mark": {"type": "bar", "width": 6, "fill": "#d9d9d9", "stroke": "#555", "strokeWidth": 0.8, "clip": true}, "encoding": {"x": {"field": "w", "type": "quantitative"}, "y": {"field": "q1", "type": "quantitative"}, "y2": {"field": "q3"}}},
   {"mark": {"type": "tick", "orient": "horizontal", "size": 6, "thickness": 0.8, "color": "#555", "clip": true}, "encoding": {"x": {"field": "w", "type": "quantitative"}, "y": {"field": "med", "type": "quantitative"}}},
   {"mark": {"type": "point", "filled": true, "size": 2.5, "color": "#111", "opacity": 1, "clip": true}, "encoding": {"x": {"field": "w", "type": "quantitative"}, "y": {"field": "mean", "type": "quantitative"}}},
   {"mark": {"type": "text", "font": "DejaVu Sans", "fontSize": 3.3, "lineHeight": 3.3, "lineBreak": "\n", "baseline": "bottom", "color": "#333", "clip": true}, "encoding": {"x": {"field": "w", "type": "quantitative"}, "y": {"datum": -1.52}, "text": {"field": "sig"}}},
   {"mark": {"type": "text", "fontSize": 13, "fontWeight": "bold", "align": "left", "baseline": "middle", "color": "#222"}, "encoding": {"x": {"datum": 1.4}, "y": {"datum": 1.62}, "text": {"value": "WA"}}}
  ]}
 ]}
]}
]
}
